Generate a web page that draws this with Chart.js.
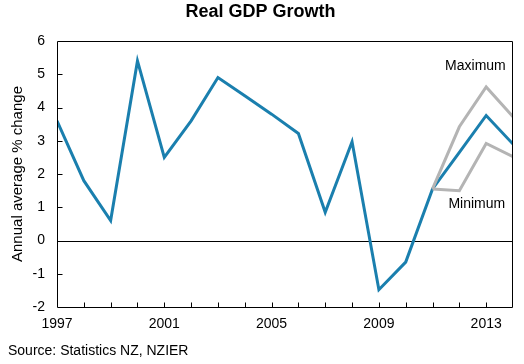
<!DOCTYPE html>
<html>
<head>
<meta charset="utf-8">
<script src="https://cdn.jsdelivr.net/npm/chart.js@4/dist/chart.umd.min.js"></script>
<style>
html,body{margin:0;padding:0;background:#fff;}
#wrap{width:524px;height:364px;position:relative;}
</style>
</head>
<body>
<div id="wrap"><canvas id="c" width="524" height="364"></canvas></div>
<script>
const years = [1997,1998,1999,2000,2001,2002,2003,2004,2005,2006,2007,2008,2009,2010,2011,2012,2013,2014];
const gdpGrowth = [3.6,1.8,0.6,5.4,2.5,3.6,4.9,4.35,3.8,3.22,0.85,2.97,-1.48,-0.65,1.55,2.65,3.76,2.9];
const maxYears = [2011,2012,2013,2014];
const maxValues = [1.55,3.42,4.62,3.72];
const minYears = [2011,2012,2013,2014];
const minValues = [1.55,1.5,2.92,2.52];
const yTicks = [-2,-1,0,1,2,3,4,5,6];
const xLabelYears = [1997,2001,2005,2009,2013];
const seriesLabels = ['Maximum','Minimum'];

const labelPos = [{x:2012.6,y:5.25},{x:2012.65,y:1.08}];

const toPts = (xs, vs) => xs.map((x,i)=>({x:x,y:vs[i]}));

const framePlugin = {
  id:'frame',
  beforeDatasetsDraw(chart){
    const {ctx, chartArea:a, scales:{x,y}} = chart;
    ctx.save();
    ctx.strokeStyle='#000';
    ctx.lineWidth=1;
    const y0 = Math.round(y.getPixelForValue(0))+0.5;
    ctx.beginPath(); ctx.moveTo(a.left,y0); ctx.lineTo(a.right,y0); ctx.stroke();
    ctx.restore();
  },
  afterDatasetsDraw(chart){
    const {ctx, chartArea:a, scales:{x,y}} = chart;
    ctx.save();
    ctx.strokeStyle='#000';
    ctx.lineWidth=1;
    const L=Math.round(a.left)+0.5, R=Math.round(a.right)-0.5, T=Math.round(a.top)+0.5, B=Math.round(a.bottom)+0.5;
    ctx.beginPath();
    ctx.moveTo(L,T); ctx.lineTo(R,T); ctx.lineTo(R,B); ctx.lineTo(L,B); ctx.closePath();
    ctx.stroke();
    ctx.beginPath();
    years.slice(1,-1).forEach(yr=>{
      const px = Math.round(x.getPixelForValue(yr))+0.5;
      ctx.moveTo(px,B); ctx.lineTo(px,B-5);
    });
    yTicks.slice(1,-1).forEach(v=>{
      const py = Math.round(y.getPixelForValue(v))+0.5;
      ctx.moveTo(L,py); ctx.lineTo(L+5,py);
    });
    ctx.stroke();
    ctx.fillStyle='#000';
    ctx.font='14px "Liberation Sans", Arial, sans-serif';
    ctx.textAlign='center';
    ctx.textBaseline='middle';
    seriesLabels.forEach((t,i)=>{
      ctx.fillText(t, x.getPixelForValue(labelPos[i].x), y.getPixelForValue(labelPos[i].y));
    });
    ctx.restore();
  }
};

new Chart(document.getElementById('c'), {
  type:'line',
  data:{
    datasets:[
      {label:'Maximum', data:toPts(maxYears,maxValues), borderColor:'#b4b4b4', borderWidth:3, pointRadius:0, tension:0},
      {label:'Minimum', data:toPts(minYears,minValues), borderColor:'#b4b4b4', borderWidth:3, pointRadius:0, tension:0},
      {label:'Real GDP growth', data:toPts(years,gdpGrowth), borderColor:'#1a7fae', borderWidth:3, pointRadius:0, tension:0}
    ]
  },
  options:{
    responsive:false,
    animation:false,
    devicePixelRatio:1,
    layout:{padding:{left:8,right:11,top:0,bottom:0}},
    plugins:{
      legend:{display:false},
      tooltip:{enabled:false},
      title:{display:true, text:'Real GDP Growth', color:'#000',
        font:{family:'"Liberation Sans", Arial, sans-serif', size:18, weight:'bold'},
        padding:{top:1,bottom:18.4}},
      subtitle:{display:true, text:'Source: Statistics NZ, NZIER', position:'bottom', align:'start', color:'#000',
        font:{family:'"Liberation Sans", Arial, sans-serif', size:14, weight:'normal'},
        padding:{top:0,bottom:4.6}}
    },
    scales:{
      x:{
        type:'linear', min:1997, max:2014,
        grid:{display:false, drawTicks:false},
        border:{display:false},
        afterBuildTicks(s){ s.ticks = years.map(v=>({value:v})); },
        afterFit(s){ s.height = 35.6; },
        ticks:{autoSkip:false, maxRotation:0, padding:9, color:'#000',
          font:{family:'"Liberation Sans", Arial, sans-serif', size:14},
          callback:(v)=> xLabelYears.includes(v) ? String(v) : ''}
      },
      y:{
        min:-2, max:6,
        grid:{display:false, drawTicks:false},
        border:{display:false},
        afterBuildTicks(s){ s.ticks = yTicks.map(v=>({value:v})); },
        afterFit(s){ s.width = 49; },
        title:{display:true, text:'Annual average % change', color:'#000',
          font:{family:'"Liberation Sans", Arial, sans-serif', size:15}, padding:{top:1,bottom:0}},
        ticks:{padding:12, color:'#000',
          font:{family:'"Liberation Sans", Arial, sans-serif', size:14}}
      }
    }
  },
  plugins:[framePlugin]
});
</script>
</body>
</html>
